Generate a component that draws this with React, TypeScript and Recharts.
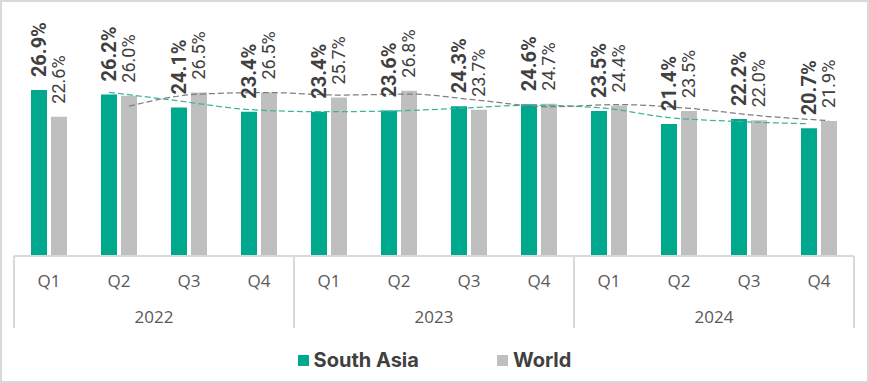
import React from "react";
import { ComposedChart, Bar, Line, XAxis, YAxis, Legend, LabelList } from "recharts";

const quarters = ["Q1", "Q2", "Q3", "Q4", "Q1", "Q2", "Q3", "Q4", "Q1", "Q2", "Q3", "Q4"];
const years = ["2022", "2022", "2022", "2022", "2023", "2023", "2023", "2023", "2024", "2024", "2024", "2024"];
const southAsia = [26.9, 26.2, 24.1, 23.4, 23.4, 23.6, 24.3, 24.6, 23.5, 21.4, 22.2, 20.7];
const world = [22.6, 26.0, 26.5, 26.5, 25.7, 26.8, 23.7, 24.7, 24.4, 23.5, 22.0, 21.9];

const TEAL = "#00A88E";
const GREY = "#BFBFBF";
const TEXT = "#404040";
const AXIS = "#D9D9D9";

const W = 869;
const H = 383;
const margin = { top: 71, right: 15, left: 14, bottom: 34 };
const BAR = 16;
const GAP = 4;
const band = (W - margin.left - margin.right) / quarters.length;
// trendlines sit on each series' own bar centre, not the category centre
const shift = (BAR + GAP) / 2 / band;

const data = quarters.map((q, i) => ({ q, year: years[i], sa: southAsia[i], world: world[i] }));

// 2-period moving average, like the spreadsheet trendline
const movingAvg = (vals: number[], off: number) =>
  vals.slice(1).map((v, i) => ({ x: i + 1.5 + off, v: (vals[i] + v) / 2 }));

const saTrend = movingAvg(southAsia, -shift);
const worldTrend = movingAvg(world, shift);

const makeLabel = (bold: boolean) => (props: any) => {
  const { x, y, width, value } = props;
  const cx = Number(x) + Number(width) / 2;
  const ty = Number(y) - 13;
  return (
    <text
      x={cx}
      y={ty}
      transform={`rotate(-90 ${cx} ${ty})`}
      dominantBaseline="central"
      textAnchor="start"
      fill={TEXT}
      fontSize={bold ? 20 : 18}
      fontWeight={bold ? 700 : 400}
      fontFamily="Roboto, sans-serif"
    >
      {Number(value).toFixed(1)}%
    </text>
  );
};

const QuarterTick = (props: any) => {
  const { x, y, payload } = props;
  return (
    <text x={x} y={y + 31} textAnchor="middle" fill="#595959" fontSize={17} fontFamily="'Open Sans', sans-serif">
      {payload.value}
    </text>
  );
};

const YearTick = (props: any) => {
  const { x, y, payload, index } = props;
  const top = y - 36;
  const bottom = y + 36;
  return (
    <g>
      {index % 4 === 0 && (
        <>
          <line x1={x - band / 2} x2={x - band / 2} y1={top} y2={bottom} stroke={AXIS} strokeWidth={2} />
          <text x={x + band * 1.5} y={y + 31} textAnchor="middle" fill="#595959" fontSize={17} fontFamily="'Open Sans', sans-serif">
            {payload.value}
          </text>
        </>
      )}
      {index === quarters.length - 1 && (
        <line x1={x + band / 2} x2={x + band / 2} y1={top} y2={bottom} stroke={AXIS} strokeWidth={2} />
      )}
    </g>
  );
};

const legendItems = [
  { label: "South Asia", color: TEAL },
  { label: "World", color: GREY },
];

const ChartLegend = () => (
  <div style={{ display: "flex", justifyContent: "center", gap: 78, fontFamily: "Inter, sans-serif" }}>
    {legendItems.map((it) => (
      <div key={it.label} style={{ display: "flex", alignItems: "center", gap: 5 }}>
        <span style={{ width: 11, height: 11, background: it.color, display: "inline-block" }} />
        <span style={{ fontSize: 20, fontWeight: 700, color: TEXT, lineHeight: "20px" }}>{it.label}</span>
      </div>
    ))}
  </div>
);

export default function App() {
  return (
    <div
      style={{
        position: "absolute",
        left: 0,
        top: 0,
        width: W,
        height: H,
        border: `2px solid ${AXIS}`,
        boxSizing: "border-box",
        background: "#fff",
      }}
    >
      <div style={{ position: "absolute", left: -2, top: -2 }}>
        <ComposedChart width={W} height={H} data={data} margin={margin} barGap={GAP}>
          <XAxis
            xAxisId="q"
            dataKey="q"
            interval={0}
            tickLine={false}
            tickSize={0}
            tickMargin={0}
            axisLine={{ stroke: AXIS, strokeWidth: 2 }}
            height={36}
            tick={<QuarterTick />}
          />
          <XAxis
            xAxisId="year"
            dataKey="year"
            interval={0}
            tickLine={false}
            tickSize={0}
            tickMargin={0}
            axisLine={false}
            height={37}
            tick={<YearTick />}
          />
          <YAxis hide domain={[0, 30]} />
          <Legend verticalAlign="bottom" content={<ChartLegend />} wrapperStyle={{ top: 350, left: 0, width: W, height: 20 }} />
          <Bar xAxisId="q" dataKey="sa" name="South Asia" fill={TEAL} barSize={BAR} isAnimationActive={false}>
            <LabelList dataKey="sa" content={makeLabel(true)} />
          </Bar>
          <Bar xAxisId="q" dataKey="world" name="World" fill={GREY} barSize={BAR} isAnimationActive={false}>
            <LabelList dataKey="world" content={makeLabel(false)} />
          </Bar>
          <XAxis xAxisId="num" type="number" dataKey="x" domain={[0, quarters.length]} hide height={0} allowDataOverflow />
          <Line
            xAxisId="num"
            data={saTrend}
            dataKey="v"
            type="monotone"
            stroke="#3DB3A0"
            strokeWidth={1.25}
            strokeDasharray="6 3"
            dot={false}
            activeDot={false}
            legendType="none"
            isAnimationActive={false}
          />
          <Line
            xAxisId="num"
            data={worldTrend}
            dataKey="v"
            type="monotone"
            stroke="#7F7F7F"
            strokeWidth={1.25}
            strokeDasharray="6 3"
            dot={false}
            activeDot={false}
            legendType="none"
            isAnimationActive={false}
          />
        </ComposedChart>
      </div>
    </div>
  );
}
